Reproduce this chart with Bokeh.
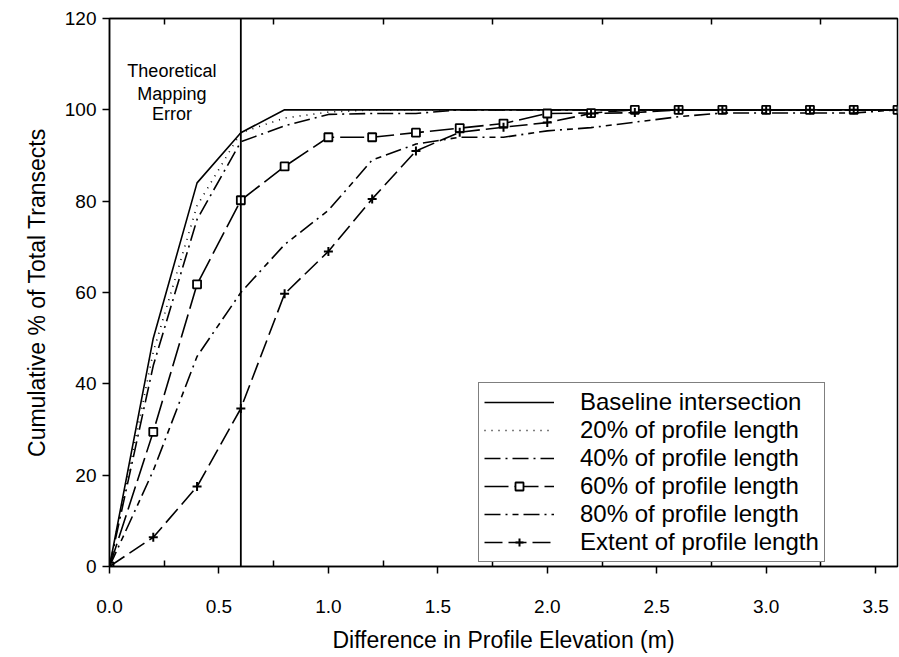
from bokeh.plotting import figure
from bokeh.models import (Range1d, FixedTicker, LinearAxis, Span, Legend, LegendItem,
                          NumeralTickFormatter)
from bokeh.core.properties import value
from bokeh.embed import file_html
from bokeh.resources import INLINE

# ---------------- data ----------------
elevation = [0.0, 0.2, 0.4, 0.6, 0.8, 1.0, 1.2, 1.4, 1.6, 1.8,
             2.0, 2.2, 2.4, 2.6, 2.8, 3.0, 3.2, 3.4, 3.6]
baseline = [0, 50, 84, 95, 100, 100, 100, 100, 100, 100,
            100, 100, 100, 100, 100, 100, 100, 100, 100]
pct20 = [0, 47, 79, 95, 98.2, 99.5, 100, 100, 100, 100,
         100, 100, 100, 100, 100, 100, 100, 100, 100]
pct40 = [0, 44, 76, 93, 96.5, 99, 99.2, 99.2, 100, 100,
         100, 100, 100, 100, 100, 100, 100, 100, 100]
pct60 = [0, 29.5, 61.8, 80.2, 87.6, 94, 94, 95, 96, 97,
         99.2, 99.3, 100, 100, 100, 100, 100, 100, 100]
pct80 = [0, 21, 46, 60, 70.5, 78, 89, 92.5, 94, 94,
         95.4, 96.1, 97.3, 98.5, 99.3, 99.3, 99.3, 99.3, 100]
extent = [0, 6.4, 17.5, 34.6, 59.7, 69, 80.5, 91, 95.1, 96.2,
          97.2, 99.2, 99.4, 100, 100, 100, 100, 100, 100]

series_labels = ["Baseline intersection", "20% of profile length", "40% of profile length",
                 "60% of profile length", "80% of profile length", "Extent of profile length"]
x_ticks = [0.0, 0.5, 1.0, 1.5, 2.0, 2.5, 3.0, 3.5]
x_minor = [0.25, 0.75, 1.25, 1.75, 2.25, 2.75, 3.25]
y_ticks = [0, 20, 40, 60, 80, 100, 120]
mapping_error = 0.6
note_lines = ["Theoretical", "Mapping", "Error"]

FONT = "Liberation Sans"

p = figure(width=899, height=657, output_backend="svg", toolbar_location=None,
           x_range=Range1d(0, 3.6), y_range=Range1d(0, 120),
           min_border_left=109, min_border_right=2, min_border_top=18, min_border_bottom=91,
           x_axis_label="Difference in Profile Elevation (m)",
           y_axis_label="Cumulative % of Total Transects")
p.grid.visible = False
p.outline_line_color = "black"
p.outline_line_width = 1.5
p.background_fill_color = "white"
p.border_fill_color = "white"

# x axis
xa = p.xaxis[0]
xa.ticker = FixedTicker(ticks=x_ticks, minor_ticks=x_minor)
xa.formatter = NumeralTickFormatter(format="0.0")
xa.major_tick_out = 7
xa.major_tick_in = 0
xa.minor_tick_out = 0
xa.minor_tick_in = 6
xa.major_tick_line_width = 1.5
xa.minor_tick_line_width = 1.5
xa.axis_line_width = 1.5
xa.major_label_standoff = 26
xa.major_label_text_font = FONT
xa.major_label_text_font_size = "19px"
xa.major_label_text_color = "black"
xa.axis_label_standoff = 11
xa.axis_label_text_font = FONT
xa.axis_label_text_font_size = "23px"
xa.axis_label_text_font_style = "normal"
xa.axis_label_text_color = "black"

# y axis
ya = p.yaxis[0]
ya.ticker = FixedTicker(ticks=y_ticks)
ya.major_tick_out = 7
ya.major_tick_in = 0
ya.minor_tick_out = 0
ya.minor_tick_in = 0
ya.major_tick_line_width = 1.5
ya.axis_line_width = 1.5
ya.major_label_standoff = 6
ya.major_label_text_font = FONT
ya.major_label_text_font_size = "19px"
ya.major_label_text_color = "black"
ya.axis_label_standoff = 12
ya.axis_label_text_font = FONT
ya.axis_label_text_font_size = "23px"
ya.axis_label_text_font_style = "normal"
ya.axis_label_text_color = "black"

# top axis: only inner minor ticks, no labels
top = LinearAxis(ticker=FixedTicker(ticks=[], minor_ticks=x_minor),
                 major_tick_out=0, major_tick_in=0,
                 minor_tick_out=0, minor_tick_in=6, minor_tick_line_width=1.5,
                 axis_line_width=1.5)
p.add_layout(top, "above")

# theoretical mapping error line
p.add_layout(Span(location=mapping_error, dimension="height", line_color="black",
                  line_width=1.8))

p.text(x=[0.285] * 3, y=[108.6, 103.5, 99.0], text=note_lines,
       text_align="center", text_baseline="alphabetic",
       text_font=value(FONT), text_font_size="18px", text_color="black")

lw = 1.6
r0 = p.line(elevation, baseline, line_color="black", line_width=lw)
r1 = p.line(elevation, pct20, line_color="black", line_width=lw, line_dash="1 6")
r2 = p.line(elevation, pct40, line_color="black", line_width=lw, line_dash="16 5 2 5")
r3 = p.line(elevation, pct60, line_color="black", line_width=lw, line_dash="24 6")
s3 = p.scatter(elevation, pct60, marker="square", size=8, fill_color="white",
               line_color="black", line_width=1.8)
r4 = p.line(elevation, pct80, line_color="black", line_width=lw, line_dash="16 5 2 5 6 5")
r5 = p.line(elevation, extent, line_color="black", line_width=lw, line_dash="18 6")
s5 = p.scatter(elevation, extent, marker="cross", size=9, line_color="black", line_width=2)

legend = Legend(items=[
    LegendItem(label=series_labels[0], renderers=[r0]),
    LegendItem(label=series_labels[1], renderers=[r1]),
    LegendItem(label=series_labels[2], renderers=[r2]),
    LegendItem(label=series_labels[3], renderers=[r3, s3]),
    LegendItem(label=series_labels[4], renderers=[r4]),
    LegendItem(label=series_labels[5], renderers=[r5, s5]),
], location=(369, 4))
legend.label_text_font = FONT
legend.label_text_font_size = "24px"
legend.label_text_color = "black"
legend.label_height = 20
legend.glyph_height = 20
legend.glyph_width = 70
legend.label_standoff = 26
legend.spacing = 0
legend.padding = 5
legend.margin = 0
legend.border_line_color = "black"
legend.border_line_width = 1.5
legend.background_fill_alpha = 1.0
p.add_layout(legend)

open("out.html", "w").write(file_html(p, INLINE))
